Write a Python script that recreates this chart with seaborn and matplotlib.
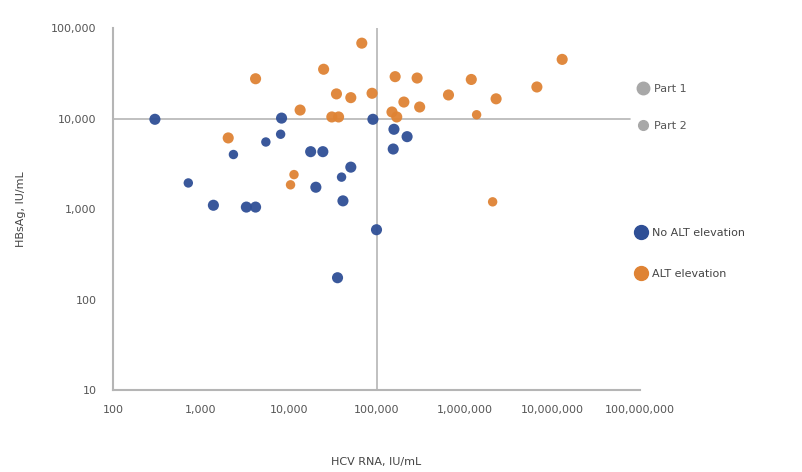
import matplotlib
matplotlib.use("Agg")
import matplotlib.pyplot as plt
from matplotlib.lines import Line2D
from matplotlib.ticker import FixedLocator, FuncFormatter
import seaborn as sns
import pandas as pd

# ---- data ----
no_alt_hcv = [300, 720, 1390, 3300, 4200, 2350, 5500, 8100, 8300, 17800, 24500,
              20400, 40000, 51000, 41500, 100000, 36000, 91000, 158000, 223000, 155000]
no_alt_hbs = [9800, 1940, 1100, 1050, 1050, 4000, 5500, 6700, 10100, 4300, 4300,
              1740, 2250, 2900, 1230, 590, 174, 9800, 7600, 6300, 4600]
no_alt_part = ["Part 1", "Part 2", "Part 1", "Part 1", "Part 1", "Part 2", "Part 2", "Part 2",
               "Part 1", "Part 1", "Part 1", "Part 1", "Part 2", "Part 1", "Part 1", "Part 1",
               "Part 1", "Part 1", "Part 1", "Part 1", "Part 1"]

alt_hcv = [68000, 4200, 25000, 35000, 51000, 89000, 13500, 31000, 37000, 2050, 11500,
           10500, 163000, 290000, 205000, 150000, 170000, 310000, 660000, 1200000,
           2300000, 1380000, 6700000, 13000000, 2100000]
alt_hbs = [68000, 27500, 35000, 18700, 17000, 19000, 12400, 10400, 10400, 6100, 2400,
           1850, 29000, 28000, 15200, 11800, 10400, 13400, 18200, 27000, 16500, 11000,
           22300, 45000, 1200]
alt_part = ["Part 1", "Part 1", "Part 1", "Part 1", "Part 1", "Part 1", "Part 1", "Part 1",
            "Part 1", "Part 1", "Part 2", "Part 2", "Part 1", "Part 1", "Part 1", "Part 1",
            "Part 1", "Part 1", "Part 1", "Part 1", "Part 1", "Part 2", "Part 1", "Part 1",
            "Part 2"]

groups = ["No ALT elevation", "ALT elevation"]
parts = ["Part 1", "Part 2"]
x_ticks = [100, 1000, 10000, 100000, 1000000, 10000000, 100000000]
y_ticks = [10, 100, 1000, 10000, 100000]
x_label = "HCV RNA, IU/mL"
y_label = "HBsAg, IU/mL"

df = pd.DataFrame({
    "hcv": no_alt_hcv + alt_hcv,
    "hbs": no_alt_hbs + alt_hbs,
    "group": [groups[0]] * len(no_alt_hcv) + [groups[1]] * len(alt_hcv),
    "part": no_alt_part + alt_part,
})

colors = {groups[0]: "#2f4f96", groups[1]: "#df8334"}
sizes = {"Part 1": 64, "Part 2": 46}

sns.set_style("white")
plt.rcParams["font.family"] = ["DejaVu Sans"]

fig = plt.figure(figsize=(8.02, 4.72), dpi=100)
ax = fig.add_axes([113 / 802, 1 - 390 / 472, (640 - 113) / 802, (390 - 28) / 472])

sns.scatterplot(data=df, x="hcv", y="hbs", hue="group", size="part",
                palette=colors, sizes=sizes, hue_order=groups, size_order=parts,
                edgecolor="none", alpha=0.95, legend=False, ax=ax, zorder=3)

ax.set_xscale("log")
ax.set_yscale("log")
ax.set_xlim(100, 100000000)
ax.set_ylim(10, 100000)

ax.xaxis.set_major_locator(FixedLocator(x_ticks))
ax.yaxis.set_major_locator(FixedLocator(y_ticks))
ax.xaxis.set_minor_locator(FixedLocator([]))
ax.yaxis.set_minor_locator(FixedLocator([]))
fmt = FuncFormatter(lambda v, p: f"{int(round(v)):,}")
ax.xaxis.set_major_formatter(fmt)
ax.yaxis.set_major_formatter(fmt)
ax.tick_params(axis="both", labelsize=8, colors="#555555", length=4, width=1,
               direction="out", pad=8)
ax.tick_params(axis="x", pad=7)

for s in ["top", "right"]:
    ax.spines[s].set_visible(False)
for s in ["left", "bottom"]:
    ax.spines[s].set_color("#b5b5b5")
    ax.spines[s].set_linewidth(1.5)

# reference lines
ax.axhline(10000, xmin=0, xmax=(630 - 113) / (640 - 113), color="#b5b5b5", lw=1.2, zorder=1)
ax.axvline(100000, color="#b5b5b5", lw=1.2, zorder=1)

ax.set_xlabel(x_label, fontsize=8, color="#444444", labelpad=30)
ax.set_ylabel(y_label, fontsize=8, color="#444444", labelpad=18)

# legends
part_handles = [Line2D([], [], marker="o", ls="none", color="#a8a8a8", markersize=9),
                Line2D([], [], marker="o", ls="none", color="#a8a8a8", markersize=7)]
leg1 = fig.legend(part_handles, parts, loc="upper left",
                  bbox_to_anchor=(626 / 802, 1 - 74 / 472), frameon=False,
                  fontsize=8, labelspacing=2.4, handletextpad=0.4, handlelength=1.2,
                  labelcolor="#555555")
grp_handles = [Line2D([], [], marker="o", ls="none", color=colors[g], markersize=10)
               for g in groups]
leg2 = fig.legend(grp_handles, groups, loc="upper left",
                  bbox_to_anchor=(624 / 802, 1 - 218 / 472), frameon=False,
                  fontsize=8, labelspacing=2.8, handletextpad=0.4, handlelength=1.2,
                  labelcolor="#444444")

fig.savefig("out.png", dpi=100)
